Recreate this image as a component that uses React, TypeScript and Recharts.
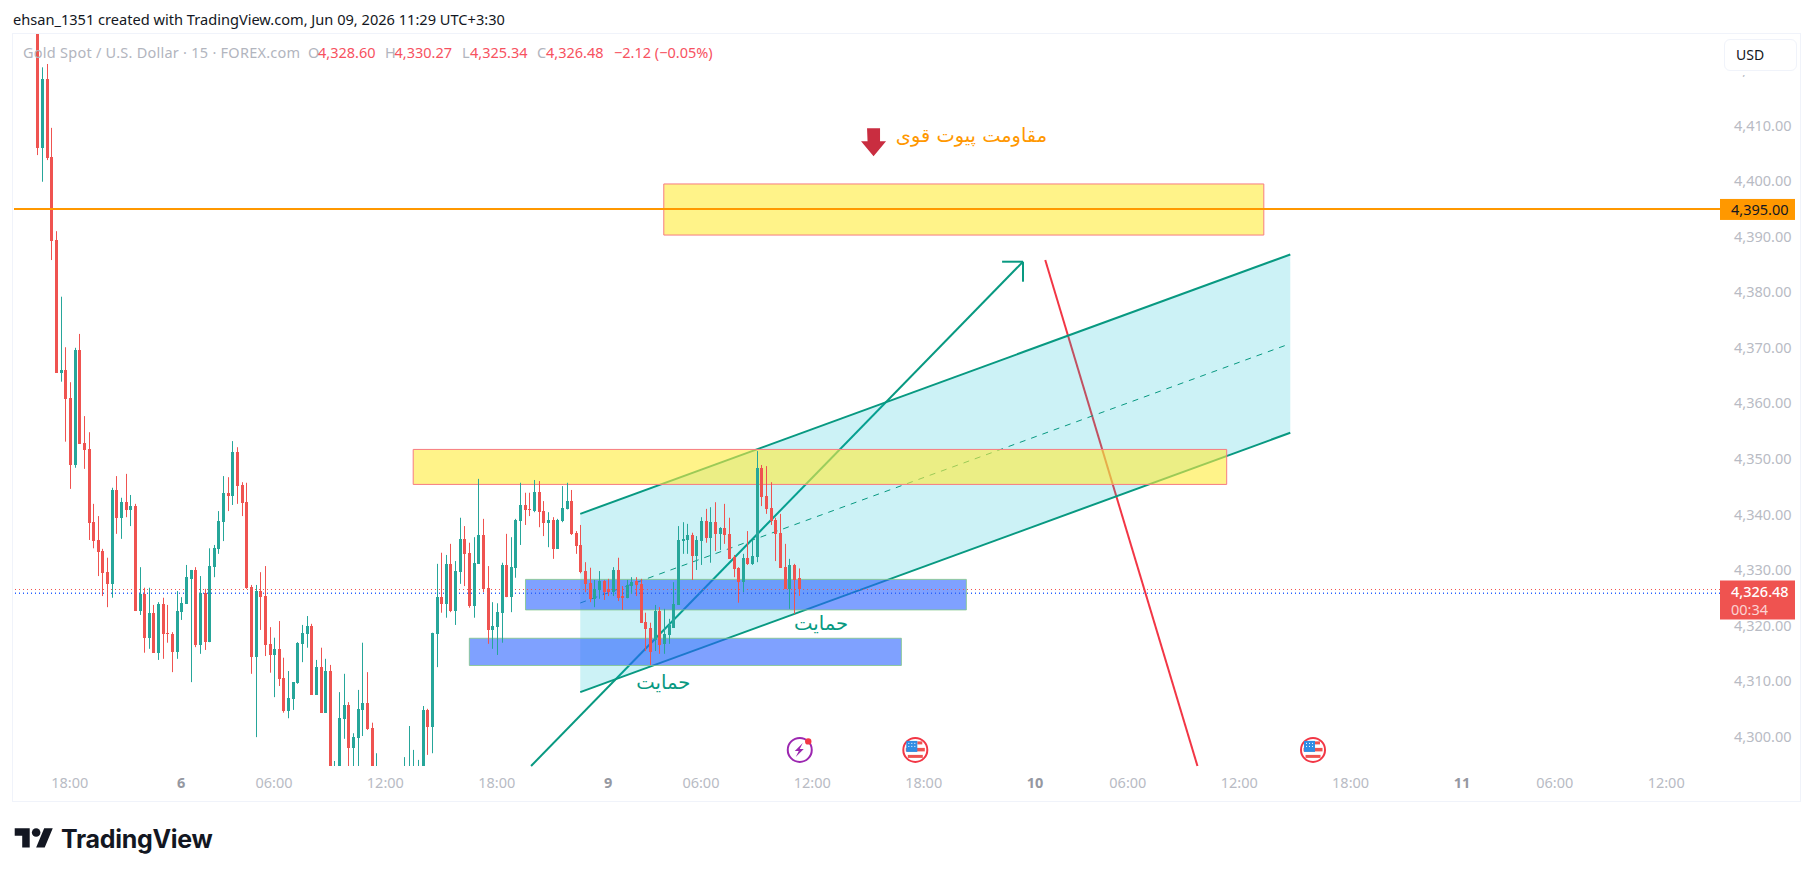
import React from 'react';
import { ComposedChart, Area, Bar, XAxis, YAxis, ReferenceLine, ReferenceArea, ReferenceDot } from 'recharts';

type Num = number | null;

// 15 minute candles. Nulls are bars that sit below the visible range.
const opens: Num[] = [
  4426.5, 4406, 4418.4, 4404.3, 4389.4, 4365.5, 4366, 4361, 4348.9, 4369.6,
  4352.9, 4351.8, 4338.6, 4335.4, 4333.4, 4329.6, 4327.5, 4344.4, 4339.4, 4342.2,
  4340.8, 4341.5, 4322.6, 4325.7, 4317.8, 4322.2, 4315.1, 4323.9, 4318.7, 4318.5,
  4315.2, 4322.5, 4323.9, 4328.4, 4330, 4316.5, 4325.9, 4317, 4330.5, 4333.8,
  4338.6, 4343.9, 4343.3, 4351.2, 4345.3, 4342.2, 4326.9, 4314.3, 4326.2, 4325.3,
  4316.7, 4314.7, 4315.8, 4310.6, 4304.6, 4306.7, 4309.6, 4316.7, 4318.5, 4319.9,
  4307.5, 4312.5, 4304.3, 4311.8, 4294.7, 4294.7, 4303.2, 4305.7, 4297.9, 4299.7,
  4304.8, 4306, 4301.5, 4294.7, null, null, null, null, null, 4294.7,
  4294.7, 4294.7, 4294.7, 4294.7, 4304.8, 4301.7, 4318.5, 4325.1, 4323.9, 4331.1,
  4322.6, 4329.6, 4335.6, 4333.1, 4323.5, 4331.1, 4336.3, 4326.8, 4319.2, 4319.7,
  4322.2, 4330.9, 4325.1, 4330.3, 4338.8, 4341.7, 4340.9, 4340.6, 4344, 4340.6,
  4338.5, 4339, 4333.8, 4338.8, 4340.9, 4342.4, 4336.7, 4334.5, 4329.8, 4327.7,
  4324.8, 4326.4, 4328, 4326.6, 4326, 4330, 4325.3, 4324.9, 4327.1, 4328,
  4327.5, 4320.6, 4319.6, 4317.4, 4322.6, 4316.7, 4318.3, 4319.6, 4323.7, 4335.2,
  4335.4, 4336.3, 4332.5, 4335.2, 4338.8, 4335.8, 4338.6, 4336.5, 4337.6, 4336.5,
  4332.3, 4330.4, 4327.8, 4332.2, 4331.1, 4332.3, 4348.4, 4343.3, 4341.2, 4339,
  4336.7, 4330.5, 4326.6, 4330.9, 4328.6,
];
const highs: Num[] = [
  4426.5, 4420.5, 4421.1, 4409.6, 4391, 4379.2, 4370.1, 4363.8, 4370, 4372.5,
  4357.7, 4354.8, 4341.9, 4339.7, 4333.8, 4332.2, 4344.8, 4346.9, 4343, 4347.3,
  4343.5, 4341.9, 4330.5, 4326.8, 4326.8, 4323.7, 4324.2, 4325, 4323.7, 4318.8,
  4326.2, 4325.1, 4330.9, 4330, 4330.5, 4328.9, 4326.6, 4333.9, 4334.5, 4340.6,
  4346.9, 4346.7, 4353.2, 4352.1, 4345.8, 4345.7, 4327.3, 4327.3, 4329.6, 4330.7,
  4319.7, 4317.8, 4320.8, 4314.2, 4311.8, 4309.8, 4317, 4320.1, 4321.7, 4320.3,
  4313.8, 4316, 4314, 4312.9, 4295.6, 4308, 4311.3, 4306.2, 4300.6, 4308.4,
  4316.9, 4311.6, 4302.5, 4297, null, null, null, null, null, 4296.3,
  4301.9, 4297.6, 4295.8, 4305.5, 4305, 4318.7, 4331.1, 4333.1, 4332.7, 4334.7,
  4331.6, 4339.4, 4337.9, 4334.9, 4335.9, 4346.4, 4339.2, 4330.7, 4324.2, 4324,
  4331.3, 4336.5, 4335.9, 4339.2, 4345.7, 4343.9, 4343.9, 4346.2, 4346, 4342.4,
  4340.4, 4339.5, 4339.2, 4345.1, 4345.7, 4344.4, 4337, 4338.1, 4331.4, 4330.4,
  4328.2, 4329.8, 4328.2, 4328.4, 4330.5, 4332.2, 4327.1, 4328.2, 4328.7, 4328.7,
  4328.4, 4322.3, 4320.5, 4323.7, 4323.3, 4323, 4321.2, 4327.8, 4337.9, 4338.6,
  4338.3, 4336.7, 4336.1, 4339.5, 4341, 4341.3, 4342.2, 4337.7, 4341.9, 4339.4,
  4332.7, 4330.5, 4332.9, 4337, 4335.4, 4351.4, 4348.9, 4348.7, 4345.8, 4339.4,
  4340.1, 4334.7, 4332, 4331.1, 4330.27,
];
const lows: Num[] = [
  4404.7, 4399.9, 4403.8, 4385.8, 4365.5, 4363.9, 4353.1, 4344.6, 4348.4, 4352.7,
  4348.2, 4335.4, 4333.9, 4328.9, 4325.3, 4323.3, 4325, 4336.5, 4335.6, 4339.5,
  4337.9, 4322.6, 4321.9, 4315.1, 4315.8, 4315.1, 4313.8, 4314, 4316.9, 4311.6,
  4314, 4321, 4323.9, 4309.8, 4316.1, 4314.9, 4315.6, 4317, 4328.7, 4332.9,
  4335.2, 4340.6, 4341.7, 4341.9, 4339.7, 4326.6, 4311.3, 4299.9, 4319.2, 4314.5,
  4311.5, 4307.1, 4309.1, 4304.3, 4303.3, 4304.8, 4309.5, 4313.4, 4316, 4307.5,
  4307.5, 4304.3, 4304.3, 4294.7, 4294.7, 4294.7, 4299.6, 4294.7, 4294.7, 4294.7,
  4300.1, 4301.2, 4294.7, 4294.7, null, null, null, null, null, 4294.7,
  4294.7, 4294.7, 4294.7, 4294.7, 4296.7, 4297, 4312.5, 4322.3, 4321.4, 4322.4,
  4320.1, 4327.5, 4327.1, 4323.2, 4321.4, 4331.1, 4326, 4316.7, 4315.8, 4314.7,
  4316.9, 4325.1, 4322.4, 4328.6, 4334.5, 4338.1, 4339.7, 4340.4, 4337.7, 4336.1,
  4334.1, 4332, 4333.8, 4338.6, 4340.9, 4336.3, 4332.9, 4329.4, 4326, 4324.2,
  4323.3, 4324.8, 4324.6, 4325.3, 4325.3, 4324.4, 4322.8, 4324.9, 4325.7, 4325.3,
  4320.5, 4315.4, 4312.9, 4315.4, 4314.9, 4314.9, 4316.7, 4319.6, 4323.7, 4332.9,
  4332.9, 4328.2, 4330, 4330.9, 4334.9, 4331.3, 4333.4, 4333.6, 4334.7, 4332,
  4328.7, 4324.1, 4326, 4330.9, 4330.9, 4331.4, 4341.5, 4340.1, 4338.1, 4331.6,
  4330.4, 4326.6, 4323, 4322.1, 4325.34,
];
const closes: Num[] = [
  4406, 4418.4, 4404.2, 4389.3, 4365.5, 4366, 4360.8, 4348.9, 4369.6, 4352.7,
  4351.6, 4338.5, 4335.2, 4333.2, 4329.4, 4327.5, 4344.4, 4339.4, 4342.2, 4340.8,
  4341.5, 4322.6, 4325.7, 4317.8, 4322.2, 4315.1, 4323.9, 4318.5, 4318.5, 4315.2,
  4322.6, 4324.1, 4328.7, 4330, 4316.5, 4325.9, 4317, 4330.7, 4333.9, 4338.8,
  4343.9, 4343.3, 4351.2, 4345.1, 4342.1, 4326.8, 4314.3, 4326.2, 4325.1, 4316.5,
  4314.7, 4315.8, 4310.4, 4304.6, 4306.9, 4309.8, 4316.9, 4318.7, 4319.9, 4307.5,
  4312.5, 4304.3, 4311.8, 4294.7, 4294.7, 4303.3, 4305.7, 4297.9, 4299.9, 4305,
  4306, 4301.4, 4294.7, 4294.7, null, null, null, null, null, 4294.7,
  4294.7, 4294.7, 4294.7, 4304.8, 4301.7, 4318.7, 4325.1, 4323.9, 4331.1, 4322.6,
  4329.8, 4335.6, 4332.9, 4323.5, 4331.3, 4336.3, 4326.6, 4319.2, 4319.9, 4322.4,
  4330.9, 4325.1, 4330.5, 4339, 4341.7, 4340.8, 4340.8, 4344, 4340.4, 4338.5,
  4339, 4333.8, 4339, 4341.2, 4342.4, 4336.5, 4334.3, 4329.6, 4327.5, 4324.8,
  4326.6, 4328, 4326, 4326, 4330, 4324.9, 4324.9, 4327.3, 4327.8, 4327.3,
  4320.5, 4319.4, 4315.2, 4322.6, 4316.5, 4318.5, 4320.1, 4323.9, 4335.4, 4335.6,
  4336.3, 4332.5, 4335.4, 4338.8, 4335.8, 4338.6, 4336.5, 4337.6, 4336.3, 4332,
  4330.2, 4327.8, 4332.2, 4331.1, 4332.5, 4348.4, 4343.1, 4340.9, 4338.8, 4336.5,
  4330.4, 4326.6, 4330.9, 4328.2, 4326.48,
];

const priceTicks = [4300, 4310, 4320, 4330, 4340, 4350, 4360, 4370, 4380, 4390, 4400, 4410, 4420];
const timeTicks = [7, 31, 51, 75, 99, 123, 143, 167, 191, 215, 235, 259, 283, 307, 327, 351];
const timeLabels = ['18:00', '6', '06:00', '12:00', '18:00', '9', '06:00', '12:00', '18:00', '10', '06:00', '12:00', '18:00', '11', '06:00', '12:00'];

const xDomain = [-5.02, 362.6];
const yDomain = [4294.7, 4426.5];

// Channel drawn on the chart: bar index and price of its two ends
const channelBars = [117, 270];
const channelLower = [4308, 4354.7];
const channelUpper = [4340.1, 4386.8];
const channelMid = [4324.05, 4370.75];

const lastPrice = 4326.48;
const pivotPrice = 4395;
const bidPrice = 4325.8;

const GREEN = '#26a69a';
const RED = '#ef5350';
const LINE_GREEN = '#089981';
const AXIS_TEXT = '#b8bbc4';
const FONT = '"Noto Sans", sans-serif';
const ARABIC_FONT = '"DejaVu Sans", sans-serif';

const bars = opens.map((open, i) => ({
  x: i,
  open,
  high: highs[i],
  low: lows[i],
  close: closes[i],
  range: lows[i] === null ? null : [lows[i], highs[i]],
  channel: null as number[] | null,
}));
bars[channelBars[0]].channel = [channelLower[0], channelUpper[0]];
const chartData = [
  ...bars,
  { x: channelBars[1], open: null, high: null, low: null, close: null, range: null, channel: [channelLower[1], channelUpper[1]] },
];

const Candle = (props: any) => {
  const { x, y, width, height, payload } = props;
  if (!payload || payload.open === null) return null;
  const { open, high, low, close } = payload;
  const ratio = high === low ? 0 : height / (high - low);
  const yOf = (p: number) => y + (high - p) * ratio;
  const color = close >= open ? GREEN : RED;
  const cx = Math.round(x + width / 2);
  const bodyTop = Math.round(yOf(Math.max(open, close)));
  const bodyH = Math.max(1, Math.round(yOf(Math.min(open, close))) - bodyTop);
  return (
    <g>
      <rect x={cx} y={y} width={1} height={Math.max(height, 1)} fill={color} />
      <rect x={cx - 1} y={bodyTop} width={3} height={bodyH} fill={color} />
    </g>
  );
};

const TimeTick = (props: any) => {
  const { x, y, payload } = props;
  const label = timeLabels[timeTicks.indexOf(payload.value)];
  const isDay = !label.includes(':');
  return (
    <text x={x} y={y} textAnchor="middle" dominantBaseline="central" fontFamily={FONT} fontSize={14.5}
      fontWeight={isDay ? 700 : 400} fill={isDay ? '#9598a1' : AXIS_TEXT}>
      {label}
    </text>
  );
};

const priceText = (v: number) =>
  v.toLocaleString('en-US', { minimumFractionDigits: 2, maximumFractionDigits: 2 });

const PivotTag = ({ cx, cy }: any) => (
  <g>
    <rect x={cx} y={cy - 10} width={75} height={21} fill="#ff9800" />
    <text x={cx + 11} y={cy} dominantBaseline="central" fontFamily={FONT} fontSize={14.5} fill="#131722">{priceText(pivotPrice)}</text>
  </g>
);

const LastTag = ({ cx, cy }: any) => (
  <g>
    <rect x={cx} y={cy - 9} width={75} height={39} fill={RED} />
    <text x={cx + 11} y={cy + 2} dominantBaseline="central" fontFamily={FONT} fontSize={14.5} fontWeight={500} fill="#fff">{priceText(lastPrice)}</text>
    <text x={cx + 11} y={cy + 20} dominantBaseline="central" fontFamily={FONT} fontSize={14.5} fill="#fff" fillOpacity={0.75}>00:34</text>
  </g>
);

const ArrowDown = ({ cx, cy }: any) => (
  <path d={`M${cx - 6.5} ${cy - 14}h13v13h6l-12.5 15l-12.5 -15h6.5z`} fill="#c92d40" />
);

const Note = (text: string, color: string, size: number) => ({ cx, cy }: any) => (
  <text x={cx} y={cy} textAnchor="middle" dominantBaseline="central" direction="rtl" fontFamily={ARABIC_FONT} fontSize={size} fill={color}>{text}</text>
);

const Flag = ({ cx, cy }: any) => (
  <g>
    <circle cx={cx} cy={cy} r={12} fill="#fff" stroke="#f23645" strokeWidth={2} />
    <rect x={cx - 9.5} y={cy - 2} width={19} height={3.5} fill={RED} />
    <rect x={cx - 7.5} y={cy + 5} width={15} height={3} fill={RED} />
    <rect x={cx + 2} y={cy - 8.5} width={5} height={3} fill={RED} />
    <rect x={cx - 9} y={cy - 9} width={11} height={11} fill="#2f8de4" />
    <rect x={cx - 7} y={cy - 7} width={1} height={1} fill="#fff" />
    <rect x={cx - 4} y={cy - 7} width={1} height={1} fill="#fff" />
    <rect x={cx - 1} y={cy - 7} width={1} height={1} fill="#fff" />
    <rect x={cx - 7} y={cy - 4} width={1} height={1} fill="#fff" />
    <rect x={cx - 4} y={cy - 4} width={1} height={1} fill="#fff" />
    <rect x={cx - 1} y={cy - 4} width={1} height={1} fill="#fff" />
  </g>
);

const Bolt = ({ cx, cy }: any) => (
  <g>
    <circle cx={cx} cy={cy} r={12} fill="#fff" stroke="#9c27b0" strokeWidth={2} />
    <path d={`M${cx + 3} ${cy - 7}l-8 8h4l-3 6l8 -8h-4z`} fill="#9c27b0" />
    <circle cx={cx + 8.5} cy={cy - 8.5} r={3.2} fill="#f23645" />
  </g>
);

const GRAY_TEXT = '#b2b5be';
const RED_TEXT = '#f7525f';

const LegendItem = ({ left, color, children, spacing }: any) => (
  <span style={{ position: 'absolute', left, top: 0, color, letterSpacing: spacing ?? 0, whiteSpace: 'nowrap' }}>{children}</span>
);

export default function App() {
  return (
    <div style={{ position: 'absolute', left: 0, top: 0, width: 1814, height: 877, background: '#fff', overflow: 'hidden', fontFamily: FONT }}>
      <div style={{ position: 'absolute', left: 13, top: 10, fontSize: 14.6, lineHeight: '19px', color: '#131722', whiteSpace: 'nowrap' }}>
        ehsan_1351 created with TradingView.com, Jun 09, 2026 11:29 UTC+3:30
      </div>

      <div style={{ position: 'absolute', left: 12, top: 33, width: 1787, height: 767, border: '1px solid #f0f3fa' }} />

      <div style={{ position: 'absolute', left: 14, top: 34 }}>
        <ComposedChart width={1786} height={768} data={chartData} margin={{ top: 0, right: 0, bottom: 0, left: 0 }}>
          <XAxis dataKey="x" type="number" domain={xDomain} allowDataOverflow ticks={timeTicks} interval={0}
            axisLine={false} tickLine={false} height={36} tick={<TimeTick />} tickMargin={10} />
          <YAxis orientation="right" type="number" domain={yDomain} allowDataOverflow ticks={priceTicks} interval={0}
            axisLine={false} tickLine={false} width={80} tickFormatter={priceText} tickMargin={8}
            tick={{ fill: AXIS_TEXT, fontSize: 14.5, fontFamily: FONT, textAnchor: 'start' }} />

          {/* up arrow and down trend line sit under the channel fill */}
          <ReferenceLine zIndex={40} segment={[{ x: 106.4, y: 4294.7 }, { x: 212.4, y: 4385.5 }]} stroke={LINE_GREEN} strokeWidth={2} />
          <ReferenceLine zIndex={40} segment={[{ x: 207.9, y: 4385.5 }, { x: 212.4, y: 4385.5 }]} stroke={LINE_GREEN} strokeWidth={2} />
          <ReferenceLine zIndex={40} segment={[{ x: 212.4, y: 4385.5 }, { x: 212.4, y: 4381.9 }]} stroke={LINE_GREEN} strokeWidth={2} />
          <ReferenceLine zIndex={40} segment={[{ x: 217.2, y: 4385.8 }, { x: 250, y: 4294.7 }]} stroke="#f23645" strokeWidth={2} />

          <Area zIndex={50} dataKey="channel" type="linear" connectNulls stroke="none" fill="#00bcd4" fillOpacity={0.2} isAnimationActive={false} dot={false} activeDot={false} />
          <ReferenceLine zIndex={60} segment={[{ x: channelBars[0], y: channelUpper[0] }, { x: channelBars[1], y: channelUpper[1] }]} stroke={LINE_GREEN} strokeWidth={2} />
          <ReferenceLine zIndex={60} segment={[{ x: channelBars[0], y: channelLower[0] }, { x: channelBars[1], y: channelLower[1] }]} stroke={LINE_GREEN} strokeWidth={2} />
          <ReferenceLine zIndex={60} segment={[{ x: channelBars[0], y: channelMid[0] }, { x: channelBars[1], y: channelMid[1] }]} stroke={LINE_GREEN} strokeWidth={1} strokeDasharray="6 6" />

          <ReferenceArea zIndex={70} x1={81} x2={256.3} y1={4345.4} y2={4351.7} fill="#ffeb3b" fillOpacity={0.6} stroke="#f77c80" strokeWidth={1} />
          <ReferenceArea zIndex={70} x1={135} x2={264.3} y1={4390.3} y2={4399.5} fill="#ffeb3b" fillOpacity={0.6} stroke="#f77c80" strokeWidth={1} />
          <ReferenceArea zIndex={70} x1={105.2} x2={200.2} y1={4322.8} y2={4328.3} fill="#2962ff" fillOpacity={0.6} stroke="#81c784" strokeOpacity={0.8} strokeWidth={1} />
          <ReferenceArea zIndex={70} x1={93.1} x2={186.2} y1={4312.8} y2={4317.7} fill="#2962ff" fillOpacity={0.6} stroke="#81c784" strokeOpacity={0.8} strokeWidth={1} />

          <ReferenceLine zIndex={80} y={lastPrice} stroke={RED} strokeWidth={1} strokeDasharray="1 3" />
          <ReferenceLine zIndex={80} y={bidPrice} stroke="#2962ff" strokeWidth={1.5} strokeDasharray="1 3" />

          <Bar zIndex={300} dataKey="range" barSize={3} shape={<Candle />} isAnimationActive={false} />

          <ReferenceLine zIndex={400} y={pivotPrice} stroke="#ff9800" strokeWidth={2} />

          <ReferenceDot x={180.2} y={4407} shape={<ArrowDown />} />
          <ReferenceDot x={201.3} y={4408.3} shape={Note('مقاومت پیوت قوی', '#ff9800', 19.4)} />
          <ReferenceDot x={168.9} y={4320.3} shape={Note('حمایت', LINE_GREEN, 19.6)} />
          <ReferenceDot x={134.9} y={4309.7} shape={Note('حمایت', LINE_GREEN, 19.6)} />
          <ReferenceDot x={164.3} y={4297.6} shape={<Bolt />} />
          <ReferenceDot x={189.2} y={4297.6} shape={<Flag />} />
          <ReferenceDot x={274.9} y={4297.6} shape={<Flag />} />
          <ReferenceDot x={xDomain[1]} y={pivotPrice} shape={<PivotTag />} />
          <ReferenceDot x={xDomain[1]} y={lastPrice} shape={<LastTag />} />
        </ComposedChart>
      </div>

      <div style={{ position: 'absolute', left: 0, top: 43, fontSize: 14.5, lineHeight: '19px' }}>
        <LegendItem left={23} color={GRAY_TEXT} spacing={0.25}>Gold Spot / U.S. Dollar · 15 · FOREX.com</LegendItem>
        <LegendItem left={308} color={GRAY_TEXT}>O</LegendItem>
        <LegendItem left={318} color={RED_TEXT}>4,328.60</LegendItem>
        <LegendItem left={385} color={GRAY_TEXT}>H</LegendItem>
        <LegendItem left={394.5} color={RED_TEXT}>4,330.27</LegendItem>
        <LegendItem left={462} color={GRAY_TEXT}>L</LegendItem>
        <LegendItem left={470} color={RED_TEXT}>4,325.34</LegendItem>
        <LegendItem left={537} color={GRAY_TEXT}>C</LegendItem>
        <LegendItem left={546} color={RED_TEXT}>4,326.48</LegendItem>
        <LegendItem left={614} color={RED_TEXT}>−2.12 (−0.05%)</LegendItem>
      </div>

      <div style={{ position: 'absolute', left: 1724, top: 39, width: 71, height: 30, border: '1px solid #f0f3fa', borderRadius: 6, background: '#fff', boxShadow: '0 4px 0 #fff', fontSize: 14, lineHeight: '30px', color: '#131722' }}>
        <span style={{ marginLeft: 11 }}>USD</span>
      </div>

      <svg style={{ position: 'absolute', left: 12, top: 824 }} width={44} height={30} viewBox="0 0 36 28">
        <path d="M14 22H7V11H0V4h14v18zM28 22h-8l7.5-18h8L28 22z" fill="#131722" />
        <circle cx={20} cy={8} r={4} fill="#131722" />
      </svg>
      <div style={{ position: 'absolute', left: 61, top: 823, fontFamily: 'Inter, sans-serif', fontWeight: 700, fontSize: 25, lineHeight: '32px', color: '#131722', letterSpacing: -0.3 }}>
        TradingView
      </div>
    </div>
  );
}
